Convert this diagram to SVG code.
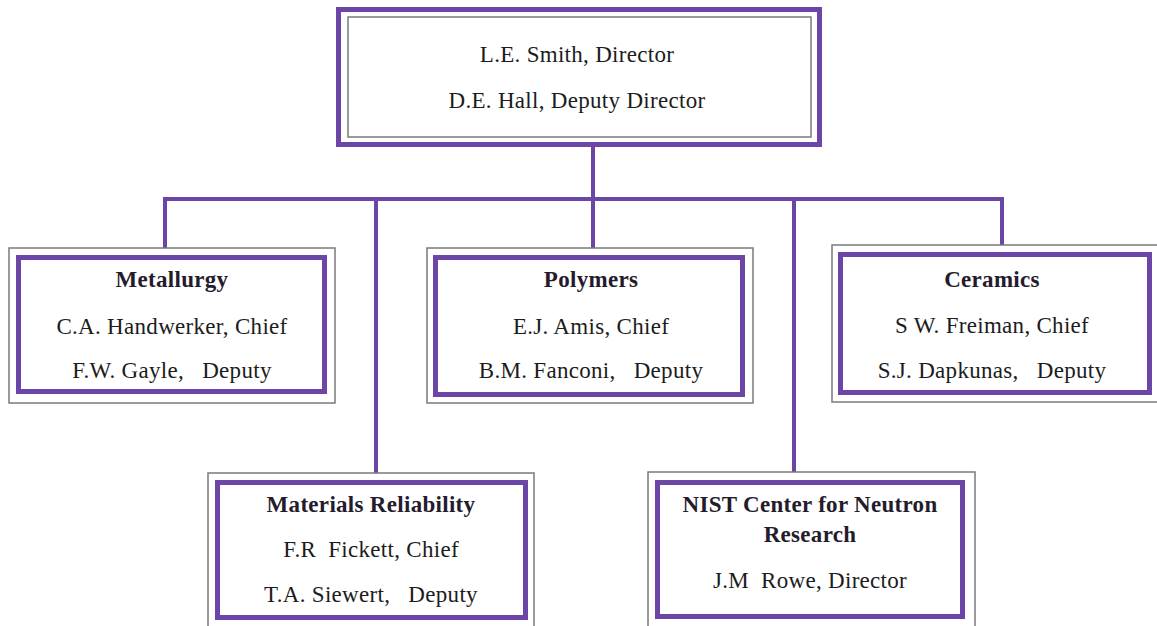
<svg xmlns="http://www.w3.org/2000/svg" width="1157" height="626" viewBox="0 0 1157 626">
  <style>
    .frame { fill: none; stroke: #7a7a7a; stroke-width: 1.5; }
    .band { fill: none; stroke: #6b46a6; stroke-width: 5; }
    .link { fill: none; stroke: #6b46a6; stroke-width: 4; }
    .t { font-family: "Liberation Serif", "Times New Roman", serif; font-size: 23px; fill: #1c1c1c; text-anchor: middle; letter-spacing: 0.3px; white-space: pre; }
    .h { font-weight: bold; fill: #241c2c; }
  </style>
  <rect x="0" y="0" width="1157" height="626" fill="#ffffff"/>

  <!-- organisational connectors -->
  <g id="connectors">
    <line class="link" x1="593" y1="147" x2="593" y2="199"/>
    <line class="link" x1="163" y1="199" x2="1004" y2="199"/>
    <line class="link" x1="165" y1="199" x2="165" y2="248"/>
    <line class="link" x1="376" y1="199" x2="376" y2="473"/>
    <line class="link" x1="593" y1="199" x2="593" y2="248"/>
    <line class="link" x1="794" y1="199" x2="794" y2="472"/>
    <line class="link" x1="1002" y1="199" x2="1002" y2="245"/>
  </g>

  <!-- division office -->
  <g id="director">
    <rect class="band" x="338.5" y="9.5" width="481" height="135"/>
    <rect class="frame" x="348" y="17" width="463" height="120"/>
    <text class="t" x="577" y="62">L.E. Smith, Director</text>
    <text class="t" x="577" y="108">D.E. Hall, Deputy Director</text>
  </g>

  <g id="metallurgy">
    <rect class="frame" x="9" y="248" width="326" height="155"/>
    <rect class="band" x="18.5" y="257.5" width="306" height="134"/>
    <text class="t h" x="172" y="287">Metallurgy</text>
    <text class="t" x="172" y="334">C.A. Handwerker, Chief</text>
    <text class="t" x="172" y="378">F.W. Gayle,   Deputy</text>
  </g>

  <g id="polymers">
    <rect class="frame" x="427" y="248" width="326" height="155"/>
    <rect class="band" x="435.5" y="257.5" width="307" height="137"/>
    <text class="t h" x="591" y="287">Polymers</text>
    <text class="t" x="591" y="334">E.J. Amis, Chief</text>
    <text class="t" x="591" y="378">B.M. Fanconi,   Deputy</text>
  </g>

  <g id="ceramics">
    <rect class="frame" x="832" y="245" width="330" height="157"/>
    <rect class="band" x="840.5" y="254.5" width="309" height="138"/>
    <text class="t h" x="992" y="287">Ceramics</text>
    <text class="t" x="992" y="333">S W. Freiman, Chief</text>
    <text class="t" x="992" y="378">S.J. Dapkunas,   Deputy</text>
  </g>

  <g id="materials-reliability">
    <rect class="frame" x="208" y="473" width="326" height="160"/>
    <rect class="band" x="217.5" y="482.5" width="308" height="135"/>
    <text class="t h" x="371" y="512">Materials Reliability</text>
    <text class="t" x="371" y="557">F.R  Fickett, Chief</text>
    <text class="t" x="371" y="602">T.A. Siewert,   Deputy</text>
  </g>

  <g id="neutron-research">
    <rect class="frame" x="648" y="472" width="327" height="160"/>
    <rect class="band" x="657.5" y="482.5" width="305" height="134"/>
    <text class="t h" x="810" y="512">NIST Center for Neutron</text>
    <text class="t h" x="810" y="542">Research</text>
    <text class="t" x="810" y="588">J.M  Rowe, Director</text>
  </g>
</svg>
